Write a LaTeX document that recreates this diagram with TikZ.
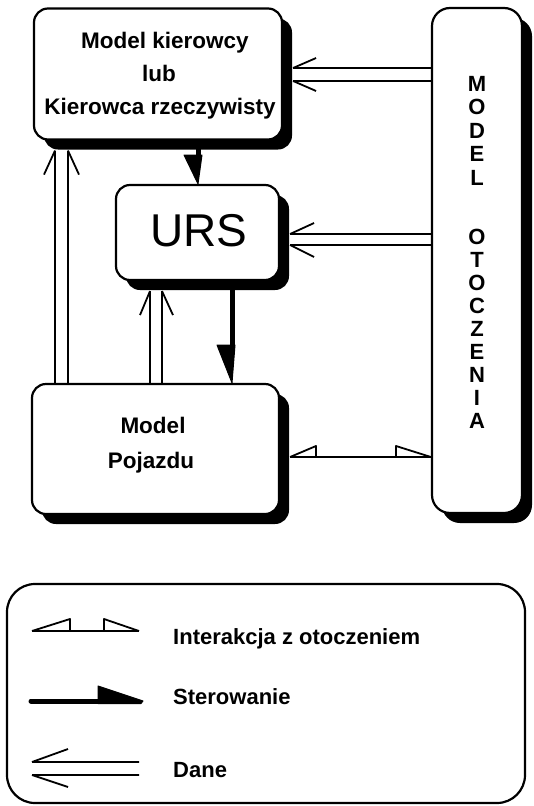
\documentclass[tikz,border=0pt]{standalone}
\usepackage{fontspec}
\setmainfont{Liberation Sans}
\usetikzlibrary{calc,shadows}
\begin{document}
\begin{tikzpicture}[x=1pt,y=-1pt,
  box/.style={draw, line width=2.2pt, fill=white, rounded corners=14pt, inner sep=0pt,
    drop shadow={shadow xshift=10pt, shadow yshift=-10pt, opacity=1, fill=black}},
  lbl/.style={font=\bfseries\fontsize{22.5}{28}\selectfont, inner sep=0pt},
  leglbl/.style={font=\bfseries\fontsize{22}{28}\selectfont, inner sep=0pt, anchor=base west},
  letter/.style={font=\bfseries\fontsize{22}{24}\selectfont, inner sep=0pt},
  dane/.style={line width=1.8pt},
  inter/.style={line width=1.8pt, line join=round},
  ster/.style={line width=5pt},
  wedge/.style={fill=black, draw=black, line width=1pt, line join=round}]
\useasboundingbox (0,0) rectangle (533,806);

% boxes
\node[box, minimum width=248pt, minimum height=131pt] (drv) at (158,74) {};
\node[box, minimum width=163pt, minimum height=95pt] (urs) at (197.5,232.5) {};
\node[box, minimum width=247pt, minimum height=130pt] (poj) at (155.5,449) {};
\node[box, rounded corners=18pt, minimum width=90pt, minimum height=505pt] (oto) at (477,260.5) {};

\coordinate (drvsh) at ($(drv.south east)+(10,10)$);
\coordinate (urssh) at ($(urs.south east)+(10,10)$);
\coordinate (pojsh) at ($(poj.south east)+(10,10)$);

% texts
\node[lbl, anchor=base] (t1) at (165,48) {Model kierowcy};
\node[lbl, anchor=base] (t2) at (159,81) {lub};
\node[lbl, anchor=base] (t3) at (160,114) {Kierowca rzeczywisty};
\node[inner sep=0pt, anchor=base, font=\fontsize{46}{50}\selectfont] (t4) at (199,246) {URS};
\node[lbl, anchor=base] (t5) at (153,433) {Model};
\node[lbl, anchor=base] (t6) at (151,468) {Pojazdu};

\node[letter] (m1) at (477,83.5) {M};
\node[letter] (m2) at (477,107) {O};
\node[letter] (m3) at (477,130.5) {D};
\node[letter] (m4) at (477,154) {E};
\node[letter] (m5) at (477,177.5) {L};
\node[letter] (o1) at (477,237) {O};
\node[letter] (o2) at (477,260) {T};
\node[letter] (o3) at (477,283) {O};
\node[letter] (o4) at (477,306) {C};
\node[letter] (o5) at (477,329) {Z};
\node[letter] (o6) at (477,352) {E};
\node[letter] (o7) at (477,375) {N};
\node[letter] (o8) at (477,398) {I};
\node[letter] (o9) at (477,421) {A};

% Dane: otoczenie -> kierowca
\draw[dane] (drvsh |- 0,68) -- (oto.west |- 0,68) (drvsh |- 0,68) -- ++(23,-10);
\draw[dane] (drvsh |- 0,81) -- (oto.west |- 0,81) (drvsh |- 0,81) -- ++(23,10);
% Dane: otoczenie -> URS
\draw[dane] (urssh |- 0,234) -- (oto.west |- 0,234) (urssh |- 0,234) -- ++(24,-11);
\draw[dane] (urssh |- 0,245) -- (oto.west |- 0,245) (urssh |- 0,245) -- ++(24,12);
% Dane: pojazd -> kierowca
\draw[dane] (poj.north -| 55,0) -- (drvsh -| 55,0) (drvsh -| 55,0) -- ++(-11,24);
\draw[dane] (poj.north -| 68,0) -- (drvsh -| 68,0) (drvsh -| 68,0) -- ++(11,24);
% Dane: pojazd -> URS
\draw[dane] (poj.north -| 150,0) -- (urssh -| 150,0) (urssh -| 150,0) -- ++(-10,24);
\draw[dane] (poj.north -| 162,0) -- (urssh -| 162,0) (urssh -| 162,0) -- ++(11,24);

% Sterowanie: kierowca -> URS
\draw[ster] (drv.south -| 198,0) -- (198,157);
\filldraw[wedge] (184,155) -- (202,155) -- (urs.north -| 198,0) -- cycle;
% Sterowanie: URS -> pojazd
\draw[ster] (urs.south -| 232,0) -- (232,347);
\filldraw[wedge] (217,345) -- (235,345) -- (poj.north -| 232,0) -- cycle;

% Interakcja: pojazd <-> otoczenie
\draw[inter] (pojsh |- 0,457) -- (oto.west |- 0,457);
\draw[inter] (pojsh |- 0,457) -- (316,446) -- (316,457);
\draw[inter] (396,457) -- (396,446) -- (oto.west |- 0,457);

% legend
\node[draw, line width=2.2pt, rounded corners=28pt, minimum width=518pt, minimum height=219pt, inner sep=0pt] (leg) at (266,693.5) {};
\coordinate (la1) at (32,631);
\coordinate (la2) at (139,631);
\draw[inter] (la1) -- (la2);
\draw[inter] (la1) -- (70,619) -- (70,631);
\draw[inter] (104,631) -- (104,619) -- (la2);
\node[leglbl] (l1) at (173,644) {Interakcja z otoczeniem};

\coordinate (lb1) at (31,701);
\coordinate (lb2) at (143,701);
\draw[ster, line cap=round] (lb1) -- (100,701);
\filldraw[wedge] (98,686) -- (lb2) -- (141,703.5) -- (98,703.5) -- cycle;
\node[leglbl] (l2) at (173,704) {Sterowanie};

\coordinate (lc1) at (32,762);
\coordinate (lc2) at (32,775);
\draw[dane] (lc1) -- (139,762) (lc1) -- (68,749);
\draw[dane] (lc2) -- (139,775) (lc2) -- (68,787);
\node[leglbl] (l3) at (173,777) {Dane};
\end{tikzpicture}
\end{document}
